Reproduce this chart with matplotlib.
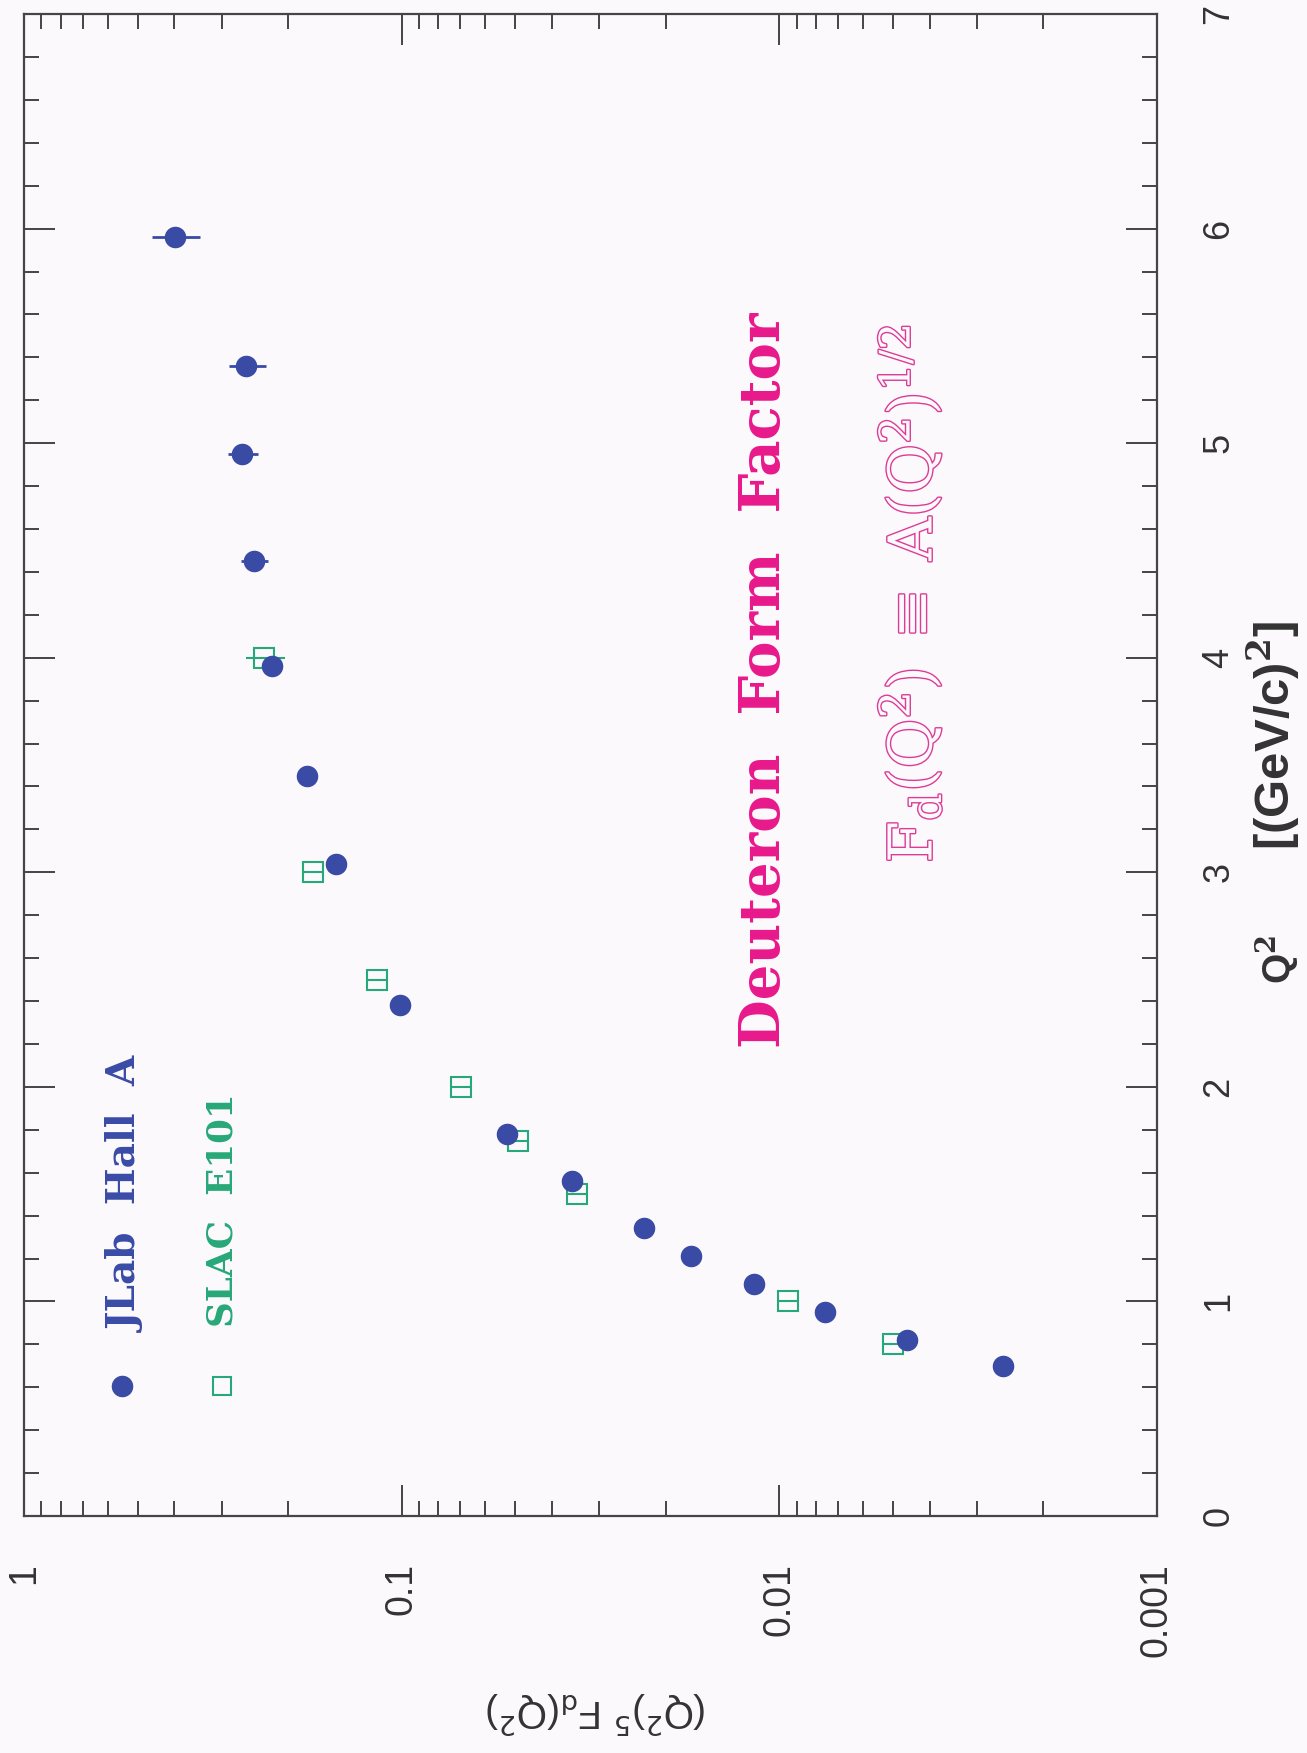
import matplotlib
matplotlib.use("Agg")
import matplotlib.pyplot as plt
import matplotlib.patheffects as pe
from matplotlib.ticker import FixedLocator, NullFormatter, FixedFormatter, LogLocator

# ---- data -------------------------------------------------------------
# JLab Hall A : Q^2 [(GeV/c)^2], (Q^2)^5 F_d(Q^2), error
jlab_q2 = [0.70, 0.82, 0.95, 1.08, 1.21, 1.34, 1.56, 1.78,
           2.38, 3.04, 3.45, 3.96, 4.45, 4.95, 5.36, 5.96]
jlab_val = [0.00256, 0.00459, 0.00755, 0.0117, 0.0171, 0.0228, 0.0355, 0.0525,
            0.101, 0.149, 0.178, 0.220, 0.246, 0.264, 0.258, 0.399]
jlab_err = [0.00010, 0.00018, 0.00030, 0.00045, 0.00065, 0.0009, 0.0014, 0.0021,
            0.004, 0.006, 0.007, 0.010, 0.020, 0.024, 0.029, 0.058]

# SLAC E101
slac_q2 = [0.80, 1.00, 1.50, 1.75, 2.00, 2.50, 3.00, 4.00]
slac_val = [0.00500, 0.00949, 0.0343, 0.0493, 0.0697, 0.1165, 0.1715, 0.231]
slac_err = [0.0003, 0.00057, 0.0021, 0.0030, 0.0042, 0.0070, 0.0103, 0.027]

value_ticks = [1, 0.1, 0.01, 0.001]
value_tick_labels = ["1", "0.1", "0.01", "0.001"]
q2_ticks = [0, 1, 2, 3, 4, 5, 6, 7]

# ---- style ------------------------------------------------------------
BG = "#fcf9fc"
AXC = "#454545"
TXT = "#333333"
BLUE = "#3a4ba6"
GREEN = "#27a878"
MAGENTA = "#e8198b"
PINK = "#dc3c96"

plt.rcParams["font.family"] = ["Liberation Sans", "DejaVu Sans"]
plt.rcParams["mathtext.fontset"] = "dejavuserif"

fig = plt.figure(figsize=(13.07, 17.53), dpi=100, facecolor=BG)
ax = fig.add_axes([0.0184, 0.1352, 0.8668, 0.8568], facecolor=BG)

# value axis runs horizontally (decreasing to the right), Q^2 vertically
ax.set_xscale("log")
ax.set_xlim(1, 0.001)
ax.set_ylim(0, 7)

ax.xaxis.set_major_locator(FixedLocator(value_ticks))
ax.xaxis.set_major_formatter(FixedFormatter(value_tick_labels))
ax.xaxis.set_minor_locator(LogLocator(base=10, subs=[2, 3, 4, 5, 6, 7, 8, 9]))
ax.xaxis.set_minor_formatter(NullFormatter())
ax.yaxis.set_major_locator(FixedLocator(q2_ticks))
ax.yaxis.set_minor_locator(FixedLocator([i * 0.2 for i in range(36)]))

for s in ax.spines.values():
    s.set_color(AXC)
    s.set_linewidth(1.6)

ax.tick_params(which="both", direction="in", top=True, bottom=True,
               left=True, right=True, color=AXC, width=1.4,
               labelleft=False, labelright=True, labelbottom=True)
ax.tick_params(which="major", length=22)
ax.tick_params(which="minor", length=11)
ax.tick_params(axis="x", which="major", pad=34, labelsize=27,
               labelcolor=TXT, labelrotation=90)
ax.tick_params(axis="y", which="major", pad=32, labelsize=26,
               labelcolor=TXT, labelrotation=90)
for lbl in ax.get_yticklabels():
    lbl.set_va("center")

# ---- data points ------------------------------------------------------
ax.errorbar(slac_val, slac_q2, xerr=slac_err, fmt="s", ms=14, mfc="none",
            mec=GREEN, mew=1.5, ecolor=GREEN, elinewidth=1.5, capsize=0,
            zorder=3)
ax.errorbar(jlab_val, jlab_q2, xerr=jlab_err, fmt="o", ms=14.5, color=BLUE,
            mec=BLUE, ecolor=BLUE, elinewidth=2.0, capsize=0, zorder=4)

# ---- legend (drawn rotated, like the rest of the page) ----------------
ax.plot([0.0869], [0.0866], "o", ms=14.5, color=BLUE, transform=ax.transAxes,
        clip_on=False)
ax.plot([0.1748], [0.0866], "s", ms=13, mfc="none", mec=GREEN, mew=1.5,
        transform=ax.transAxes, clip_on=False)

renderer = fig.canvas.get_renderer()


def fit_length(t, target_px):
    bb = t.get_window_extent(renderer)
    t.set_fontsize(t.get_fontsize() * target_px / bb.height)


serif_bold = dict(family=["DejaVu Serif"], weight="bold")
t1 = ax.text(0.1006, 0.1225, "JLab  Hall  A", color=BLUE, rotation=90,
             rotation_mode="anchor", ha="left", va="baseline",
             transform=ax.transAxes, fontsize=28, **serif_bold)
fit_length(t1, 275)
t2 = ax.text(0.1836, 0.1258, "SLAC  E101", color=GREEN, rotation=90,
             rotation_mode="anchor", ha="left", va="baseline",
             transform=ax.transAxes, fontsize=28, **serif_bold)
fit_length(t2, 234)

# ---- title and definition --------------------------------------------
tt = ax.text(0.6673, 0.3116, "Deuteron  Form  Factor", color=MAGENTA,
             rotation=90, rotation_mode="anchor", ha="left", va="baseline",
             transform=ax.transAxes, fontsize=44, **serif_bold)
fit_length(tt, 736)

tf = ax.text(0.8014, 0.4348,
             r"$\mathrm{F_d(Q^2)}\;\equiv\;\mathrm{A(Q^2)^{1/2}}$",
             color=BG, rotation=90, rotation_mode="anchor", ha="left",
             va="baseline", transform=ax.transAxes, fontsize=50,
             path_effects=[pe.Stroke(linewidth=2.0, foreground=PINK),
                           pe.Normal()])
fit_length(tf, 538)

# ---- axis titles ------------------------------------------------------
ax.text(1.117, 0.354, r"Q$^\mathbf{2}$", color=TXT, rotation=90,
        rotation_mode="anchor", ha="left", va="baseline",
        transform=ax.transAxes, fontsize=28, weight="bold", clip_on=False)
tu = ax.text(1.117, 0.4434, r"[(GeV/c)$^\mathbf{2}$]", color=TXT, rotation=90,
             rotation_mode="anchor", ha="left", va="baseline",
             transform=ax.transAxes, fontsize=28, weight="bold",
             clip_on=False)
fit_length(tu, 230)

fig.text(596 / 1307, 1 - 1713 / 1753,
         r"(Q$^2$)$^5$ F$_\mathrm{d}$(Q$^2$)",
         color=TXT, rotation=180, ha="center", va="center",
         fontsize=28, family=["Liberation Sans", "DejaVu Sans"],
         math_fontfamily="dejavusans")

fig.savefig("out.png", dpi=100, facecolor=BG)
